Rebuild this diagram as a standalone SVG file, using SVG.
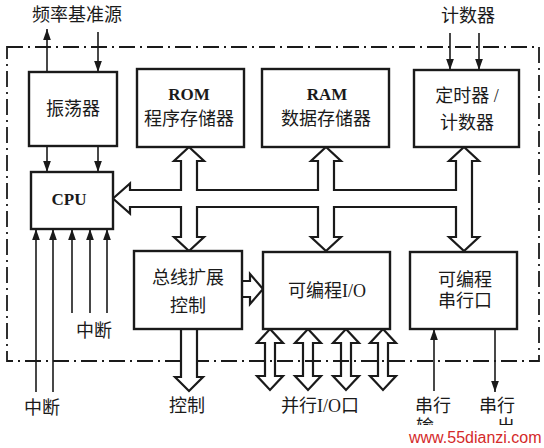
<svg xmlns="http://www.w3.org/2000/svg" width="544" height="448" viewBox="0 0 544 448">
  <defs>
    <style>
      .box { fill: #ffffff; stroke: #1a1a1a; stroke-width: 2.4; }
      .t { font-family: "Liberation Serif", "Noto Sans CJK SC", serif; font-size: 18px; fill: #1a1a1a; text-anchor: middle; }
      .lat { font-family: "Liberation Serif", "Noto Sans CJK SC", serif; font-size: 17px; font-weight: bold; fill: #1a1a1a; text-anchor: middle; }
      .ln { fill: none; stroke: #1a1a1a; stroke-width: 1.6; marker-end: url(#ah); }
      .fat { fill: #ffffff; stroke: #1a1a1a; stroke-width: 2.2; stroke-linejoin: miter; }
      .fatn { fill: none; stroke: #1a1a1a; stroke-width: 2.2; stroke-linejoin: miter; }
      .border { fill: none; stroke: #1a1a1a; stroke-width: 1.8; stroke-dasharray: 16 5 2 5; }
      .wm { font-family: "Liberation Sans", Arial, sans-serif; font-size: 16px; fill: #d42a2a; }
    </style>
    <marker id="ah" viewBox="0 0 10 10" refX="10" refY="5" markerWidth="11" markerHeight="11" markerUnits="userSpaceOnUse" orient="auto">
      <path d="M0,1.5 L10,5 L0,8.5 Z" fill="#1a1a1a"/>
    </marker>
    <clipPath id="cut">
      <rect x="400" y="410" width="144" height="15"/>
    </clipPath>
  </defs>

  <rect x="0" y="0" width="544" height="448" fill="#ffffff"/>

  <!-- chip boundary -->
  <rect class="border" x="7" y="47" width="532" height="314"/>

  <g id="connectors">
    <!-- frequency source -->
    <line class="ln" x1="47" y1="72" x2="47" y2="29"/>
    <line class="ln" x1="98" y1="32" x2="98" y2="72"/>
    <!-- counter inputs -->
    <line class="ln" x1="450" y1="33" x2="450" y2="70"/>
    <line class="ln" x1="479" y1="33" x2="479" y2="70"/>
    <!-- oscillator to CPU -->
    <line class="ln" x1="47" y1="146" x2="47" y2="172"/>
    <line class="ln" x1="98" y1="146" x2="98" y2="172"/>
    <!-- interrupts -->
    <line class="ln" x1="36" y1="392" x2="36" y2="229"/>
    <line class="ln" x1="53" y1="392" x2="53" y2="229"/>
    <line class="ln" x1="72" y1="313" x2="72" y2="229"/>
    <line class="ln" x1="90" y1="313" x2="90" y2="229"/>
    <line class="ln" x1="107" y1="313" x2="107" y2="229"/>
    <!-- serial in/out -->
    <line class="ln" x1="434" y1="391" x2="434" y2="329"/>
    <line class="ln" x1="495" y1="329" x2="495" y2="392"/>

    <!-- system bus -->
    <path class="fat" d="M113,198.5 L130,183.5 L130,190 L181,190 L181,161 L174,161 L189,147 L204,161 L197,161 L197,190 L318,190 L318,161 L311,161 L326,147 L341,161 L334,161 L334,190 L456,190 L456,161 L449,161 L464,147 L479,161 L472,161 L472,237 L479,237 L464,251 L449,237 L456,237 L456,207 L334,207 L334,237 L341,237 L326,251 L311,237 L318,237 L318,207 L197,207 L197,237 L204,237 L189,251 L174,237 L181,237 L181,207 L130,207 L130,213.5 Z"/>

    <!-- bus expansion to I/O -->
    <path class="fat" d="M242,281 L250,281 L250,274 L263,289 L250,304 L250,297 L242,297"/>
    <!-- control out -->
    <path class="fat" d="M181,329 L181,377 L175,377 L189,391 L203,377 L197,377 L197,329"/>

    <!-- parallel I/O double arrows -->
    <path class="fatn" d="M270,329 L283,343 L275,343 L275,376 L283,376 L270,390 L257,376 L265,376 L265,343 L257,343 Z"/>
    <path class="fatn" d="M308,329 L321,343 L313,343 L313,376 L321,376 L308,390 L295,376 L303,376 L303,343 L295,343 Z"/>
    <path class="fatn" d="M346,329 L359,343 L351,343 L351,376 L359,376 L346,390 L333,376 L341,376 L341,343 L333,343 Z"/>
    <path class="fatn" d="M383,329 L396,343 L388,343 L388,376 L396,376 L383,390 L370,376 L378,376 L378,343 L370,343 Z"/>
  </g>

  <g id="osc">
    <rect class="box" x="29" y="72" width="88" height="74"/>
    <text class="t" x="73" y="115">振荡器</text>
  </g>

  <g id="rom">
    <rect class="box" x="137" y="69" width="107" height="78"/>
    <text class="lat" x="189" y="100">ROM</text>
    <text class="t" x="189" y="125">程序存储器</text>
  </g>

  <g id="ram">
    <rect class="box" x="262" y="69" width="127" height="78"/>
    <text class="lat" x="327" y="100">RAM</text>
    <text class="t" x="326" y="125">数据存储器</text>
  </g>

  <g id="timer">
    <rect class="box" x="414" y="70" width="105" height="77"/>
    <text class="t" x="467" y="102">定时器 /</text>
    <text class="t" x="467" y="129">计数器</text>
  </g>

  <g id="cpu">
    <rect class="box" x="31" y="172" width="82" height="57"/>
    <text class="lat" x="69" y="205">CPU</text>
  </g>

  <g id="busctl">
    <rect class="box" x="134" y="251" width="108" height="78"/>
    <text class="t" x="188" y="284">总线扩展</text>
    <text class="t" x="188" y="312">控制</text>
  </g>

  <g id="pio">
    <rect class="box" x="263" y="252" width="127" height="77"/>
    <text class="t" x="327" y="297">可编程I/O</text>
  </g>

  <g id="sio">
    <rect class="box" x="410" y="252" width="107" height="77"/>
    <text class="t" x="465" y="286">可编程</text>
    <text class="t" x="465" y="307">串行口</text>
  </g>

  <g id="labels">
    <text class="t" x="77" y="21">频率基准源</text>
    <text class="t" x="468" y="22">计数器</text>
    <text class="t" x="94" y="337">中断</text>
    <text class="t" x="42" y="414">中断</text>
    <text class="t" x="187" y="412">控制</text>
    <text class="t" x="320" y="412">并行I/O口</text>
    <text class="t" x="433" y="412">串行</text>
    <text class="t" x="497" y="412">串行</text>
    <g clip-path="url(#cut)">
      <text class="t" x="425" y="433">输</text>
      <text class="t" x="506" y="433">出</text>
    </g>
    <text class="wm" x="409" y="443">www.55dianzi.com</text>
  </g>
</svg>
